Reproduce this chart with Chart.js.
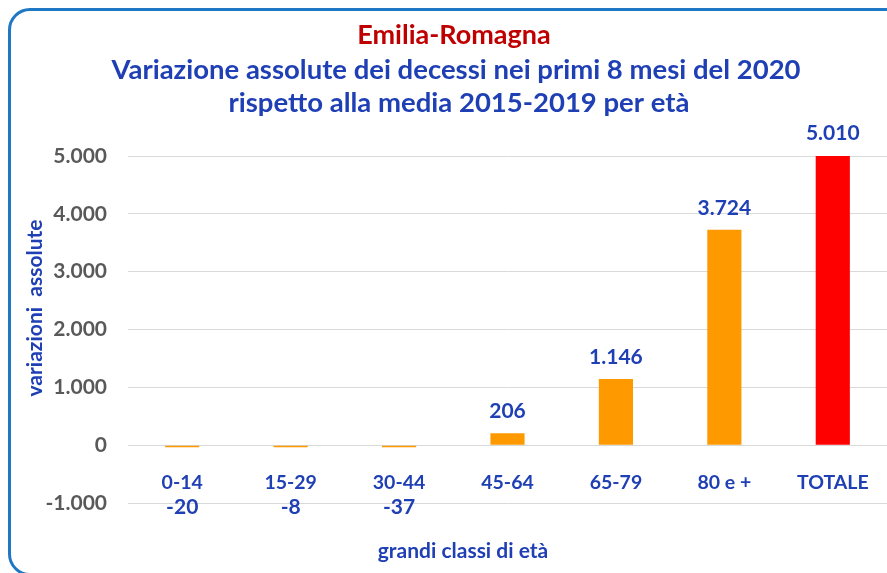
<!DOCTYPE html>
<html>
<head>
<meta charset="utf-8">
<script src="https://cdn.jsdelivr.net/npm/chart.js@4"></script>
<style>
  html, body { margin: 0; padding: 0; background: #fff; }
  #wrap { position: relative; width: 887px; height: 573px; overflow: hidden; }
  #frame {
    position: absolute; left: 8px; top: 8px; width: 900px; height: 568px;
    border: 3px solid #1f78c4; border-radius: 22px; box-sizing: border-box;
  }
  canvas { position: absolute; left: 0; top: 0; }
</style>
</head>
<body>
<div id="wrap">
  <div id="frame"></div>
  <canvas id="myChart" width="887" height="573"></canvas>
</div>
<script>
const categories = ['0-14', '15-29', '30-44', '45-64', '65-79', '80 e +', 'TOTALE'];
const values = [-20, -8, -37, 206, 1146, 3724, 5010];
const barColors = ['#ff9900', '#ff9900', '#ff9900', '#ff9900', '#ff9900', '#ff9900', '#ff0000'];
const yTicks = [-1000, 0, 1000, 2000, 3000, 4000, 5000];

const titleLines = ['Emilia-Romagna', 'Variazione assolute dei decessi nei primi 8 mesi del 2020', 'rispetto alla media 2015-2019 per età'];
const yTitle = 'variazioni  assolute';
const xTitle = 'grandi classi di età';

const FONT = 'Lato';
const BLUE = '#1f3fb4';

function fmt(v) {
    return v.toLocaleString('it-IT');
}

// titles, axis titles and the value labels
const textPlugin = {
    id: 'texts',
    afterDatasetsDraw(chart) {
        const ctx = chart.ctx;
        const y = chart.scales.y;
        const zero = y.getPixelForValue(0);
        ctx.save();
        ctx.textAlign = 'center';
        ctx.textBaseline = 'middle';

        ctx.fillStyle = '#c00000';
        ctx.font = `bold 27px ${FONT}`;
        ctx.fillText(titleLines[0], 454, 35);
        ctx.fillStyle = BLUE;
        ctx.font = `bold 27.5px ${FONT}`;
        ctx.fillText(titleLines[1], 456, 70);
        ctx.fillText(titleLines[2], 459, 103);

        ctx.font = `bold 21px ${FONT}`;
        chart.getDatasetMeta(0).data.forEach((bar, i) => {
            const v = values[i];
            if (v >= 0) {
                ctx.fillText(fmt(v), bar.x, bar.y - 22);
            } else {
                ctx.fillText(fmt(v), bar.x, zero + 62);
            }
        });

        ctx.font = `bold 21px ${FONT}`;
        ctx.fillText(xTitle, 463, 551);
        ctx.translate(35, 308);
        ctx.rotate(-Math.PI / 2);
        ctx.fillText(yTitle, 0, 0);
        ctx.restore();
    }
};

function makeChart() {
    const ctx = document.getElementById('myChart');

    new Chart(ctx, {
        type: 'bar',
        data: {
            labels: categories,
            datasets: [{
                data: values,
                backgroundColor: barColors,
                borderWidth: 0,
                minBarLength: 2,
                categoryPercentage: 1,
                barPercentage: 0.315
            }]
        },
        options: {
            responsive: false,
            animation: false,
            layout: {
                padding: { top: 156, bottom: 70, left: 0, right: 0 }
            },
            plugins: {
                legend: { display: false },
                tooltip: { enabled: false }
            },
            scales: {
                x: {
                    position: { y: 0 },
                    grid: { display: false },
                    border: { display: false },
                    ticks: {
                        padding: 18,
                        color: BLUE,
                        font: { family: FONT, size: 19.5, weight: 'bold' }
                    }
                },
                y: {
                    min: -1000,
                    max: 5000,
                    afterFit(scale) { scale.width = 128; },
                    afterBuildTicks(scale) { scale.ticks = yTicks.map(v => ({ value: v })); },
                    grid: { color: '#d9d9d9', drawTicks: false },
                    border: { display: false },
                    ticks: {
                        padding: 21,
                        color: '#595959',
                        font: { family: FONT, size: 21, weight: 'bold' },
                        callback: v => fmt(v)
                    }
                }
            }
        },
        plugins: [textPlugin]
    });
}

makeChart();
</script>
</body>
</html>
